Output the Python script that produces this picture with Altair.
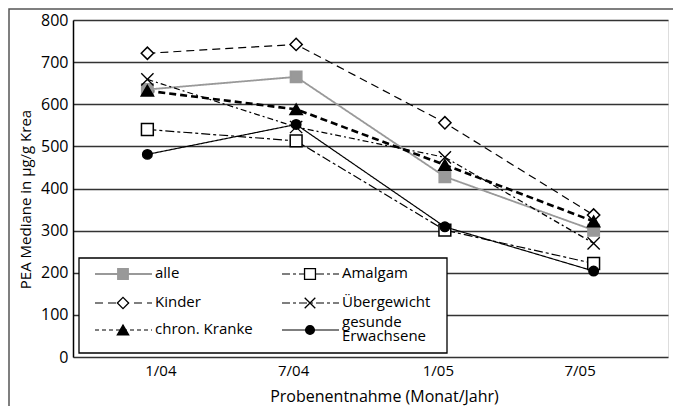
import altair as alt
import pandas as pd

# ---- data ----
categories = ["1/04", "7/04", "1/05", "7/05"]
series_names = ["alle", "Kinder", "Amalgam", "Übergewicht", "chron. Kranke", "gesunde Erwachsene"]
alle = [635, 665, 428, 301]
kinder = [721, 742, 556, 337]
amalgam = [540, 513, 301, 222]
uebergewicht = [659, 546, 474, 270]
chron_kranke = [632, 588, 456, 322]
gesunde = [481, 552, 309, 204]
all_values = [alle, kinder, amalgam, uebergewicht, chron_kranke, gesunde]
y_ticks = [0, 100, 200, 300, 400, 500, 600, 700, 800]

rows = []
for name, vals in zip(series_names, all_values):
    for c, v in zip(categories, vals):
        rows.append({"serie": name, "probe": c, "wert": v})
df = pd.DataFrame(rows)

FONT = "Open Sans"
X_PATH = "M-1,-1L1,1M-1,1L1,-1"

styles = {
    "alle": dict(color="#999999", dash=[1, 0], width=1.8, shape="square", fill="#999999", stroke="#999999", size=130, legdash=[1, 0], legwidth=1.8),
    "Kinder": dict(color="black", dash=[8, 5], width=1.2, shape="diamond", fill="white", stroke="black", size=150, legdash=[8, 5], legwidth=1.2),
    "Amalgam": dict(color="black", dash=[9, 3, 3, 3], width=1.2, shape="square", fill="white", stroke="black", size=140, legdash=[8, 3, 3, 3], legwidth=1.2),
    "Übergewicht": dict(color="black", dash=[6, 3, 2, 3], width=1.2, shape=X_PATH, fill=None, stroke="black", size=150, legdash=[8, 3, 3, 3], legwidth=1.2),
    "chron. Kranke": dict(color="black", dash=[7, 4], width=2.6, shape="triangle-up", fill="black", stroke="black", size=150, legdash=[4, 3], legwidth=1.2),
    "gesunde Erwachsene": dict(color="black", dash=[1, 0], width=1.2, shape="circle", fill="black", stroke="black", size=90, legdash=[1, 0], legwidth=1.2),
}

x_enc = alt.X(
    "probe:N",
    sort=categories,
    scale=alt.Scale(domain=categories, type="point", padding=0.5),
    axis=alt.Axis(
        title="Probenentnahme (Monat/Jahr)",
        labelAngle=0,
        ticks=False,
        tickSize=0,
        domain=False,
        grid=False,
        labelFont=FONT,
        labelFontSize=15,
        labelColor="black",
        labelBaseline="alphabetic",
        labelPadding=18,
        labelOffset={
            "condition": [
                {"test": "datum.value == '1/04'", "value": 13},
                {"test": "datum.value == '7/04'", "value": -3},
                {"test": "datum.value == '1/05'", "value": -7},
            ],
            "value": -14,
        },
        titleFont=FONT,
        titleFontSize=16,
        titleFontWeight="normal",
        titleColor="black",
        titleX=311,
        titleY=44,
        titleAlign="center",
        titleBaseline="alphabetic",
    ),
)
y_enc = alt.Y(
    "wert:Q",
    scale=alt.Scale(domain=[0, 800], nice=False, zero=True),
    axis=alt.Axis(
        title="PEA Mediane in µg/g Krea",
        values=y_ticks,
        ticks=False,
        tickSize=0,
        domain=True,
        domainColor="black",
        domainWidth=1.5,
        grid=True,
        gridColor="#333333",
        gridWidth=1.4,
        labelFont=FONT,
        labelFontSize=16,
        labelColor="black",
        labelPadding=5,
        titleFont=FONT,
        titleFontSize=15,
        titleFontWeight="normal",
        titleColor="black",
        titleAngle=270,
        titleX=-48,
        titleY=179,
        titleAlign="center",
        titleBaseline="middle",
    ),
)

base = alt.Chart(df)
layers = []

# outer frame (only top/left visible in reference)
frame = alt.Chart(pd.DataFrame({"k": [0]})).mark_rect(
    fill=None, stroke="#555555", strokeWidth=1.5
).encode(
    x=alt.value(-64), x2=alt.value(640), y=alt.value(-11), y2=alt.value(420)
)
layers.append(frame)

for name in series_names:
    s = styles[name]
    sub = base.transform_filter(alt.datum.serie == name)
    line = sub.mark_line(
        color=s["color"], strokeDash=s["dash"], strokeWidth=s["width"]
    ).encode(x=x_enc, y=y_enc)
    layers.append(line)

for name in series_names:
    s = styles[name]
    sub = base.transform_filter(alt.datum.serie == name)
    if s["fill"] is None:
        pt = sub.mark_point(shape=s["shape"], size=s["size"], filled=False,
                            color=s["stroke"], strokeWidth=1.4, opacity=1)
    else:
        pt = sub.mark_point(shape=s["shape"], size=s["size"], filled=True,
                            fill=s["fill"], stroke=s["stroke"], strokeWidth=1.5, opacity=1)
    layers.append(pt.encode(x=x_enc, y=y_enc))

# ---- manual legend ----
leg_left, leg_top, leg_w, leg_h = 6, 238, 368, 95
col_x = [22, 209]
row_y = [254, 283, 310]
legend_pos = {
    "alle": (0, 0), "Kinder": (0, 1), "chron. Kranke": (0, 2),
    "Amalgam": (1, 0), "Übergewicht": (1, 1), "gesunde Erwachsene": (1, 2),
}
one = pd.DataFrame({"k": [0]})
box = alt.Chart(one).mark_rect(fill="white", stroke="black", strokeWidth=1.3).encode(
    x=alt.value(leg_left), x2=alt.value(leg_left + leg_w),
    y=alt.value(leg_top), y2=alt.value(leg_top + leg_h),
)
layers.append(box)

for name in series_names:
    s = styles[name]
    c, r = legend_pos[name]
    x0 = col_x[c]
    yy = row_y[r]
    multi = name == "gesunde Erwachsene"
    ldf = pd.DataFrame({"label": [name.replace(" ", "\n") if multi else name]})
    lc = alt.Chart(ldf)
    layers.append(
        lc.mark_rule(color=s["color"], strokeDash=s["legdash"], strokeWidth=s["legwidth"]).encode(
            x=alt.value(x0), x2=alt.value(x0 + 57), y=alt.value(yy)
        )
    )
    if s["fill"] is None:
        lp = lc.mark_point(shape=s["shape"], size=s["size"] * 0.75, filled=False,
                           color=s["stroke"], strokeWidth=1.3, opacity=1)
    else:
        lp = lc.mark_point(shape=s["shape"], size=s["size"] * 0.85, filled=True,
                           fill=s["fill"], stroke=s["stroke"], strokeWidth=1.3, opacity=1)
    layers.append(lp.encode(x=alt.value(x0 + 28), y=alt.value(yy)))
    layers.append(
        lc.mark_text(align="left", baseline="middle", font=FONT, fontSize=15,
                     color="black", lineBreak="\n", lineHeight=14,
                     dy=-8 if multi else -1).encode(
            x=alt.value(x0 + 60), y=alt.value(yy), text="label:N"
        )
    )

chart = alt.layer(*layers).properties(
    width=595,
    height=337,
    autosize=alt.AutoSizeParams(type="none"),
    padding={"left": 65, "top": 12, "right": 5, "bottom": 49},
).configure_view(
    stroke="black", strokeWidth=1.5
).configure(background="white")

chart.save("out.html", embed_options={"renderer": "svg", "actions": False})
